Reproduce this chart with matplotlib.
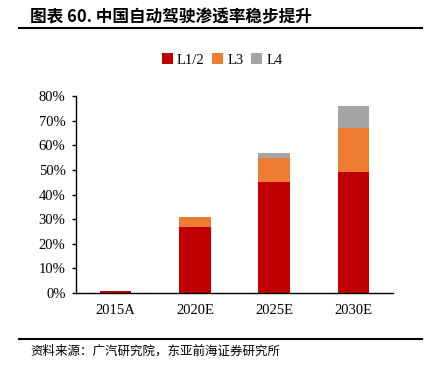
import numpy as np
import matplotlib
matplotlib.use("Agg")
import matplotlib.pyplot as plt
from matplotlib.lines import Line2D

# data
years = ["2015A", "2020E", "2025E", "2030E"]
l12 = [0.01, 0.27, 0.45, 0.49]
l3 = [0.00, 0.04, 0.10, 0.18]
l4 = [0.00, 0.00, 0.02, 0.09]
series_names = ["L1/2", "L3", "L4"]
colors = ["#C00000", "#ED7D31", "#A5A5A5"]
yticks = [0, 0.1, 0.2, 0.3, 0.4, 0.5, 0.6, 0.7, 0.8]

plt.rcParams['font.family'] = ['Liberation Serif', 'Noto Sans CJK SC']

fig = plt.figure(figsize=(4.27, 3.68), dpi=100)
ax = fig.add_axes([76 / 427, 1 - 293 / 368, (393 - 76) / 427, (293 - 96) / 368])

x = np.arange(len(years))
bottom = np.zeros(len(years))
for vals, name, c in zip([l12, l3, l4], series_names, colors):
    ax.bar(x, vals, width=0.4, bottom=bottom, color=c, label=name)
    bottom += np.array(vals)

ax.set_xlim(-0.5, 3.5)
ax.set_ylim(0, 0.8)
ax.set_yticks(yticks)
ax.set_yticklabels([f"{int(round(v * 100))}%" for v in yticks])
ax.set_xticks(x)
ax.set_xticklabels(years)
ax.tick_params(axis='y', direction='out', length=3, width=1, pad=4.5, labelsize=10.5)
ax.tick_params(axis='x', length=0, pad=8, labelsize=10.5)
for s in ['top', 'right']:
    ax.spines[s].set_visible(False)
for s in ['left', 'bottom']:
    ax.spines[s].set_linewidth(1)

fig.legend(loc='center', bbox_to_anchor=(222 / 427, 1 - 60 / 368), ncol=3,
           frameon=False, fontsize=10.5, handlelength=0.75, handleheight=0.75,
           handletextpad=0.3, columnspacing=0.5)

# title and source
fig.text(30 / 427, 1 - 17 / 368, "图表 60. 中国自动驾驶渗透率稳步提升",
         fontsize=12, fontweight='bold', va='center', ha='left',
         family=['Noto Sans CJK SC', 'DejaVu Sans'])
fig.add_artist(Line2D([19 / 427, 422 / 427], [1 - 28 / 368, 1 - 28 / 368],
                      color='black', linewidth=1.5))
fig.add_artist(Line2D([19 / 427, 422 / 427], [1 - 339 / 368, 1 - 339 / 368],
                      color='black', linewidth=1.5))
fig.text(30 / 427, 1 - 351 / 368, "资料来源：广汽研究院，东亚前海证券研究所",
         fontsize=9, va='center', ha='left',
         family=['Noto Sans CJK SC', 'DejaVu Sans'])

fig.savefig("out.png", dpi=100)
